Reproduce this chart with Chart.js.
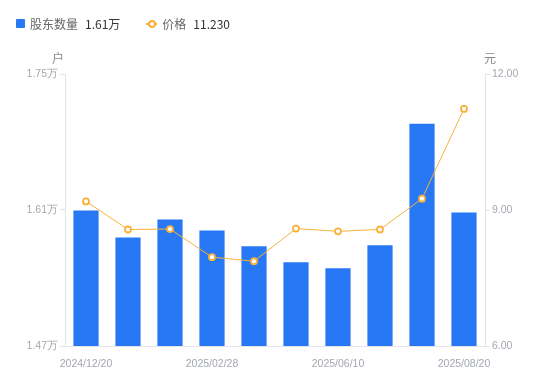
<!DOCTYPE html>
<html>
<head>
<meta charset="utf-8">
<script src="https://cdn.jsdelivr.net/npm/chart.js@4"></script>
<style>
  body { margin: 0; background: #fff; font-family: "Noto Sans CJK SC", "Noto Sans", sans-serif; }
  #wrap { position: relative; width: 550px; height: 381px; }
  #legend { position: absolute; left: 16px; top: 15px; font-size: 12px; display: flex; align-items: center; }
  .lg { display: flex; align-items: center; margin-right: 26px; }
  .lg .name { color: #666; margin-right: 7px; }
  .lg .val { color: #333; }
  .sq { width: 9px; height: 9px; background: #2878F5; border-radius: 1px; margin-right: 5px; }
  .ln { position: relative; width: 11px; height: 9px; margin-right: 5px; }
  .ln:before { content: ""; position: absolute; left: 0; right: 0; top: 4px; height: 2px; background: #F9B13A; }
  .ln:after { content: ""; position: absolute; left: 2px; top: 1px; width: 4px; height: 4px; border: 2px solid #F9B13A; border-radius: 50%; background: #fff; }
</style>
</head>
<body>
<div id="wrap">
  <div id="legend"></div>
  <canvas id="Chart1" width="550" height="381"></canvas>
</div>
<script>
// dates (only every third one shown on the axis)
const dateLabels = ['2024/12/20', '2024/12/31', '2025/01/20', '2025/02/28', '2025/03/20',
                    '2025/03/31', '2025/06/10', '2025/06/30', '2025/07/20', '2025/08/20'];
// shareholders, in 万户
const holders = [1.6095, 1.5818, 1.6003, 1.589, 1.5726, 1.5562, 1.55, 1.5736, 1.6987, 1.6074];
// price, 元
const price = [9.19, 8.57, 8.58, 7.96, 7.87, 8.59, 8.53, 8.57, 9.25, 11.23];
const leftTicks = [1.47, 1.61, 1.75];
const rightTicks = [6, 9, 12];
const shownIdx = [0, 3, 6, 9];

const blue = '#2878F5';
const orange = '#F9B13A';
const grey = '#a3a7b0';
const axisLine = '#e3e4e8';

// legend shows the last values
document.getElementById('legend').innerHTML =
  '<div class="lg"><span class="sq"></span><span class="name">股东数量</span><span class="val">' +
  holders[holders.length - 1].toFixed(2) + '万</span></div>' +
  '<div class="lg"><span class="ln"></span><span class="name">价格</span><span class="val">' +
  price[price.length - 1].toFixed(3) + '</span></div>';

const axisTitles = {
  id: 'axisTitles',
  afterDraw(chart) {
    const c = chart.ctx;
    const a = chart.chartArea;
    c.save();
    c.fillStyle = '#888';
    c.font = '12px "Noto Sans CJK SC"';
    c.textAlign = 'center';
    c.textBaseline = 'middle';
    c.fillText('户', a.left - 7, a.top - 16);
    c.fillText('元', a.right + 5, a.top - 16);
    c.restore();
  }
};

const tickFont = { size: 10.5, family: '"Liberation Sans", Arial, sans-serif' };

new Chart(document.getElementById('Chart1').getContext('2d'), {
  type: 'bar',
  data: {
    labels: dateLabels,
    datasets: [
      {
        type: 'line',
        label: '价格',
        data: price,
        yAxisID: 'y1',
        borderColor: orange,
        borderWidth: 1,
        pointRadius: 3,
        pointBorderWidth: 1.8,
        pointBackgroundColor: '#fff',
        pointBorderColor: orange,
        tension: 0,
        order: 0
      },
      {
        label: '股东数量',
        data: holders,
        yAxisID: 'y',
        backgroundColor: blue,
        barPercentage: 0.6,
        categoryPercentage: 1,
        order: 1
      }
    ]
  },
  options: {
    responsive: false,
    animation: false,
    layout: { padding: { top: 74, left: 0, right: 0, bottom: 0 } },
    plugins: { legend: { display: false }, tooltip: { enabled: false } },
    scales: {
      x: {
        grid: { display: false },
        border: { color: axisLine },
        ticks: {
          autoSkip: false,
          maxRotation: 0,
          color: grey,
          font: tickFont,
          padding: 4,
          callback: function(value, index) {
            return shownIdx.includes(index) ? dateLabels[index] : '';
          }
        },
        afterFit: function(s) { s.height = 35; }
      },
      y: {
        position: 'left',
        min: leftTicks[0],
        max: leftTicks[2],
        afterBuildTicks: function(s) { s.ticks = leftTicks.map(v => ({ value: v })); },
        grid: { drawOnChartArea: false, tickLength: 5, color: axisLine },
        border: { color: axisLine },
        ticks: {
          color: grey,
          font: tickFont,
          padding: 2,
          callback: function(value) { return value.toFixed(2) + '万'; }
        },
        afterFit: function(s) { s.width = 65; }
      },
      y1: {
        position: 'right',
        min: rightTicks[0],
        max: rightTicks[2],
        afterBuildTicks: function(s) { s.ticks = rightTicks.map(v => ({ value: v })); },
        grid: { drawOnChartArea: false, tickLength: 5, color: axisLine },
        border: { color: axisLine },
        ticks: {
          color: grey,
          font: tickFont,
          padding: 2,
          callback: function(value) { return value.toFixed(2); }
        },
        afterFit: function(s) { s.width = 65; }
      }
    }
  },
  plugins: [axisTitles]
});
</script>
</body>
</html>
